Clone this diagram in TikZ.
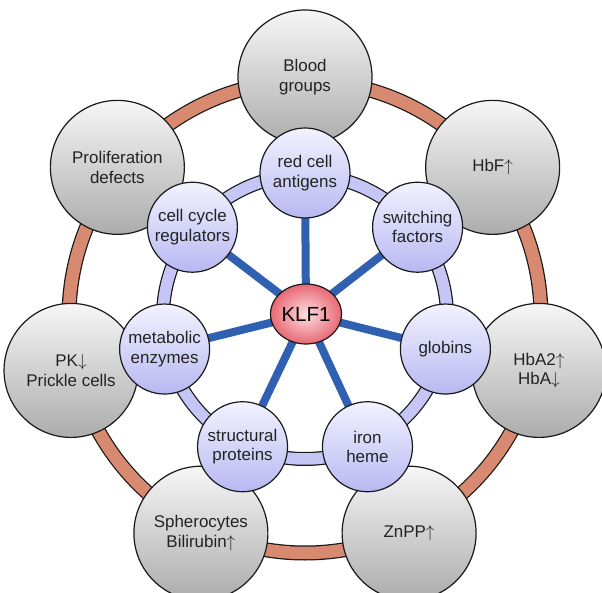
\documentclass[tikz,border=0pt]{standalone}
\usepackage{fontspec}
\setmainfont{Liberation Sans}
\usetikzlibrary{shapes.geometric,backgrounds}
\definecolor{ringout}{RGB}{216,138,112}
\definecolor{ringin}{RGB}{198,198,246}
\definecolor{spoke}{RGB}{47,96,178}
\definecolor{txt}{RGB}{35,35,35}
\definecolor{edge}{RGB}{25,25,25}
\definecolor{grtop}{RGB}{246,246,246}
\definecolor{grbot}{RGB}{172,172,172}
\definecolor{bltop}{RGB}{242,242,255}
\definecolor{blbot}{RGB}{184,184,242}
\definecolor{klfin}{RGB}{252,222,225}
\definecolor{klfout}{RGB}{232,104,116}
\newcommand{\myup}{\ensuremath{\uparrow}}
\newcommand{\mydown}{\ensuremath{\downarrow}}
\begin{document}
\begin{tikzpicture}[x=1bp,y=1bp,
  outernode/.style={circle, draw=edge, line width=1.2bp, minimum size=134bp, inner sep=0pt,
    top color=grtop, bottom color=grbot, align=center, text=txt,
    font=\fontsize{17}{19.5}\selectfont},
  innernode/.style={circle, draw=edge, line width=1.2bp, minimum size=90bp, inner sep=0pt,
    top color=bltop, bottom color=blbot, align=center, text=txt,
    font=\fontsize{17}{19.5}\selectfont},
  hubnode/.style={ellipse, draw=edge, line width=1.2bp, minimum width=71bp, minimum height=60bp,
    inner sep=0pt, inner color=klfin, outer color=klfout, text=black,
    font=\fontsize{20.5}{22}\selectfont},
  spokeline/.style={line width=8bp, spoke},
]
\useasboundingbox (0,0) rectangle (602,593);
\coordinate (c) at (305,276);
% outer ring
\draw[line width=15bp, edge] (c) circle[radius=236bp];
\draw[line width=12.5bp, ringout] (c) circle[radius=236bp];
% outer nodes
\node[outernode] (o1) at ([shift={(90:240)}]c) {Blood\\groups};
\node[outernode] (o2) at ([shift={(38.57:240)}]c) {HbF\myup};
\node[outernode] (o3) at ([shift={(-12.86:240)}]c) {HbA2\myup\\HbA\mydown};
\node[outernode] (o4) at ([shift={(-64.29:240)}]c) {ZnPP\myup};
\node[outernode] (o5) at ([shift={(-115.71:240)}]c) {Spherocytes\\Bilirubin\myup};
\node[outernode] (o6) at ([shift={(-167.14:240)}]c) {PK\mydown\\Prickle cells};
\node[outernode] (o7) at ([shift={(141.43:240)}]c) {Proliferation\\defects};
% inner ring
\draw[line width=14bp, edge] (c) circle[radius=142bp];
\draw[line width=11.5bp, ringin] (c) circle[radius=142bp];
% inner nodes
\node[innernode] (i1) at ([shift={(90:144)}]c) {red cell\\antigens};
\node[innernode] (i2) at ([shift={(38.57:144)}]c) {switching\\factors};
\node[innernode] (i3) at ([shift={(-12.86:144)}]c) {globins};
\node[innernode] (i4) at ([shift={(-64.29:144)}]c) {iron\\heme};
\node[innernode] (i5) at ([shift={(-115.71:144)}]c) {structural\\proteins};
\node[innernode] (i6) at ([shift={(-167.14:144)}]c) {metabolic\\enzymes};
\node[innernode] (i7) at ([shift={(141.43:144)}]c) {cell cycle\\regulators};
% hub
\node[hubnode] (k) at (306,279) {KLF1};
\begin{pgfonlayer}{background}
  \foreach \i in {1,...,7} {
    \draw[spokeline] (k.center) -- (i\i.center);
  }
\end{pgfonlayer}
\end{tikzpicture}
\end{document}
